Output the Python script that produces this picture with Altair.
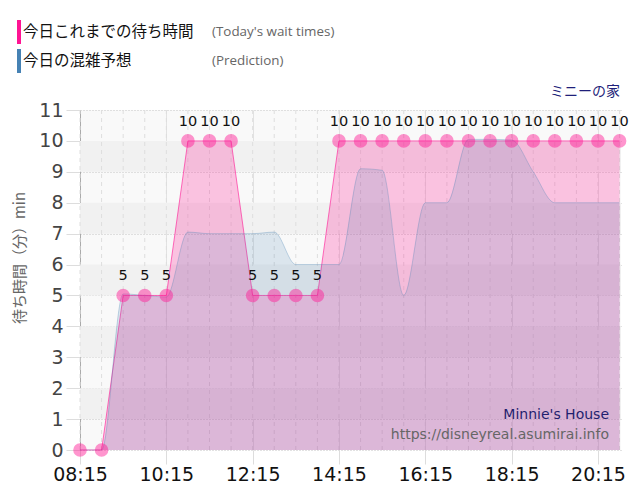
import altair as alt
import pandas as pd

times = ["08:15", "08:45", "09:15", "09:45", "10:15", "10:45", "11:15", "11:45",
         "12:15", "12:45", "13:15", "13:45", "14:15", "14:45", "15:15", "15:45",
         "16:15", "16:45", "17:15", "17:45", "18:15", "18:45", "19:15", "19:45",
         "20:15", "20:45"]
actual = [0, 0, 5, 5, 5, 10, 10, 10, 5, 5, 5, 5, 10, 10, 10, 10, 10, 10, 10, 10,
          10, 10, 10, 10, 10, 10]
prediction = [0, 0, 5.05, 5.0, 4.95, 7.05, 7.0, 7.0, 7.0, 7.05, 6.0, 6.0, 6.0, 9.1,
              9.05, 5.0, 8.0, 8.0, 10.05, 10.05, 10.03, 9.0, 8.0, 8.0, 8.0, 8.0]
tick_labels = ["08:15", "10:15", "12:15", "14:15", "16:15", "18:15", "20:15"]
y_ticks = list(range(0, 12))
band_lo = [1, 3, 5, 7, 9]
band_hi = [2, 4, 6, 8, 10]


def to_min(t):
    h, m = t.split(":")
    return int(h) * 60 + int(m)


W, H = 541, 340
df = pd.DataFrame({"t": [to_min(t) for t in times], "actual": actual, "pred": prediction})
bands = pd.DataFrame({"lo": band_lo, "hi": band_hi})
grid30 = pd.DataFrame({"t": [to_min(t) for t in times]})

label_expr = ("(floor(datum.value/60)<10?'0':'')+floor(datum.value/60)+':'+"
              "((datum.value%60)<10?'0':'')+(datum.value%60)")

xscale = alt.Scale(domain=[495, 1247], nice=False, zero=False)
yscale = alt.Scale(domain=[0, 11], nice=False)

xaxis = alt.Axis(values=[to_min(t) for t in tick_labels], labelExpr=label_expr,
                 title=None, grid=True, gridColor="#e2e2e2", domain=False,
                 tickColor="#dddddd", tickSize=14, labelFontSize=19,
                 labelColor="#111111", labelFont="DejaVu Sans", labelPadding=1,
                 labelOverlap=False, labelFlush=False)
yaxis = alt.Axis(values=y_ticks, title=None, grid=True, gridColor="#c4c4c4",
                 gridDash=[1, 2], domainColor="#aaaaaa", tickColor="#dddddd",
                 tickSize=14, labelFontSize=19, labelColor="#444444",
                 labelFont="DejaVu Sans", labelPadding=3, labelOverlap=False,
                 labelFlush=False)

X = alt.X("t:Q", scale=xscale, axis=xaxis)


def Y(field):
    return alt.Y(field, scale=yscale, axis=yaxis)


base = alt.Chart(df)

band_layer = alt.Chart(bands).mark_rect(color="#f1f1f1").encode(
    y=Y("lo:Q"), y2="hi:Q", x=alt.value(0), x2=alt.value(W),
)

vgrid = alt.Chart(grid30).mark_rule(color="#dedede", strokeDash=[4, 4], strokeWidth=1).encode(x=X)

pink_area = base.mark_area(fill="#ff1493", fillOpacity=0.24).encode(x=X, y=Y("actual:Q"))
pink_line = base.mark_line(color="#ff1493", strokeWidth=1, opacity=0.6).encode(x=X, y=Y("actual:Q"))
blue_area = base.mark_area(fill="#4682b4", fillOpacity=0.17, interpolate="monotone").encode(
    x=X, y=Y("pred:Q"))
blue_line = base.mark_line(color="#4682b4", strokeWidth=1, opacity=0.3, interpolate="monotone").encode(
    x=X, y=Y("pred:Q"))
points = base.mark_circle(size=185, color="#ff1493", opacity=0.45).encode(x=X, y=Y("actual:Q"))
labels = base.transform_filter("datum.actual > 0").mark_text(
    dy=-19, fontSize=14.5, font="DejaVu Sans", color="#111111", baseline="middle").encode(
    x=X, y=Y("actual:Q"), text="actual:Q")


def txt(s, x, y, size, color, font, align="left", angle=0):
    props = dict(fontSize=size, color=color, font=font, align=align, baseline="middle")
    if angle:
        props["angle"] = angle
    return alt.Chart(pd.DataFrame({"s": [s]})).mark_text(**props).encode(
        text="s:N", x=alt.value(x), y=alt.value(y))


def bar(color, y0):
    return alt.Chart(pd.DataFrame({"s": [0]})).mark_rect(color=color).encode(
        x=alt.value(-63), x2=alt.value(-59), y=alt.value(y0), y2=alt.value(y0 + 24))


jp = "Noto Sans CJK JP"
annot = [
    bar("#ff1493", -90),
    bar("#4682b4", -61),
    txt("今日これまでの待ち時間", -57, -78, 15.5, "#111111", jp),
    txt("(Today's wait times)", 132, -78, 13.4, "#666666", "Open Sans"),
    txt("今日の混雑予想", -57, -49, 15.5, "#111111", jp),
    txt("(Prediction)", 132, -49, 13.4, "#666666", "Open Sans"),
    txt("ミニーの家", 540, -18, 14, "#1f1f7a", jp, align="right"),
    txt("Minnie's House", 529, 305, 14, "#1f1f6e", "DejaVu Sans", align="right"),
    txt("https://disneyreal.asumirai.info", 529, 325, 14, "#666666", "DejaVu Sans", align="right"),
    txt("待ち時間（分）min", -60, 148, 15, "#666666", jp, align="center", angle=270),
]

chart = alt.layer(
    band_layer, vgrid, pink_area, pink_line, blue_area, blue_line, points, labels, *annot
).properties(
    width=W, height=H,
    autosize=alt.AutoSizeParams(type="none"),
    padding={"left": 72, "top": 102, "right": 10, "bottom": 42},
).configure_view(stroke=None, fill="#f9f9f9")

chart.save("out.html", embed_options={"renderer": "svg", "actions": False})
